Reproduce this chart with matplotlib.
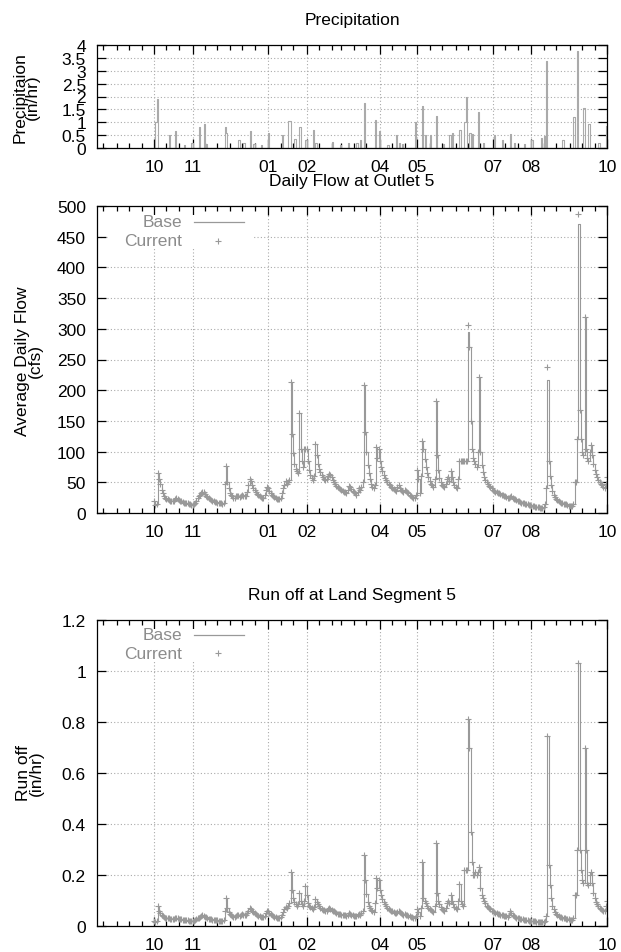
import numpy as np
import pandas as pd
import matplotlib
matplotlib.use('Agg')
import matplotlib.pyplot as plt
from matplotlib.ticker import FuncFormatter, MultipleLocator
from matplotlib.patches import Rectangle

plt.rcParams['font.family'] = ['Liberation Sans', 'DejaVu Sans']

# x axis is in days counted from 1 October (first water-year day)
start = pd.Timestamp('2005-10-01')
x_start, x_end = -46, 365
month_tick_days = [0, 31, 92, 123, 182, 212, 273, 304, 365]
month_tick_labels = ['10', '11', '01', '02', '04', '05', '07', '08', '10']

# daily average flow at outlet 5 (cfs), Base run
flow_base = [
    20, 13, 14, 65, 55, 48, 38, 32, 28, 25,
    23, 22, 21, 20, 20, 19, 19, 22, 25, 23,
    21, 20, 19, 18, 17, 17, 16, 16, 15, 14,
    13, 13, 14, 16, 20, 24, 27, 30, 33, 35,
    34, 31, 28, 26, 24, 22, 21, 20, 19, 18,
    18, 17, 17, 16, 16, 15, 16, 48, 77, 50,
    40, 33, 29, 27, 25, 25, 27, 28, 27, 26,
    27, 29, 28, 27, 28, 35, 45, 55, 52, 46,
    41, 37, 34, 31, 29, 27, 26, 25, 24, 30,
    38, 42, 40, 36, 33, 30, 28, 26, 24, 23,
    22, 22, 25, 33, 40, 45, 52, 48, 50, 53,
    213, 128, 97, 80, 72, 68, 65, 163, 105, 85,
    75, 105, 105, 105, 85, 70, 62, 57, 53, 60,
    112, 95, 80, 72, 66, 62, 58, 55, 53, 55,
    60, 64, 62, 58, 54, 50, 47, 44, 42, 40,
    39, 38, 36, 35, 34, 33, 38, 44, 42, 39,
    36, 34, 32, 30, 35, 40, 38, 42, 50, 208,
    132, 100, 78, 65, 55, 48, 43, 40, 45, 108,
    90, 104, 85, 75, 68, 62, 57, 53, 50, 47,
    45, 43, 41, 39, 37, 36, 42, 45, 41, 38,
    36, 34, 38, 36, 34, 32, 30, 28, 26, 25,
    24, 30, 70, 55, 32, 60, 118, 105, 88, 75,
    65, 58, 52, 48, 45, 43, 55, 183, 95, 70,
    57, 50, 46, 44, 42, 48, 55, 58, 52, 68,
    58, 50, 45, 42, 40, 55, 85, 85, 85, 85,
    85, 85, 85, 295, 270, 150, 105, 90, 85, 80,
    75, 100, 222, 100, 78, 66, 58, 53, 50, 47,
    44, 42, 40, 38, 36, 35, 34, 33, 32, 31,
    30, 29, 28, 27, 26, 25, 24, 26, 27, 25,
    23, 22, 21, 20, 19, 18, 17, 17, 16, 15,
    15, 14, 13, 13, 12, 11, 11, 10, 10, 9,
    9, 8, 8, 8, 10, 15, 40, 217, 85, 60,
    45, 36, 30, 26, 23, 21, 19, 18, 17, 16,
    15, 14, 14, 13, 12, 12, 11, 11, 15, 50,
    50, 120, 470, 168, 120, 100, 95, 320, 105, 90,
    85, 100, 110, 95, 80, 70, 63, 58, 53, 50,
    47, 45, 42, 40, 48, 58,
]
# Current run differs only at a few peaks
flow_peak_days = [253, 317, 342]
flow_peak_current = [307, 237, 487]

# run off at land segment 5 (in/hr)
runoff = [
    .02, .015, .02, .08, .06, .05, .045, .04, .035, .033,
    .03, .03, .03, .028, .028, .027, .027, .03, .032, .03,
    .028, .027, .026, .025, .025, .024, .023, .022, .021, .02,
    .02, .02, .021, .023, .026, .03, .033, .036, .04, .042,
    .04, .037, .034, .031, .029, .027, .026, .025, .024, .023,
    .022, .022, .021, .02, .02, .02, .022, .06, .11, .07,
    .055, .047, .042, .038, .036, .035, .04, .045, .042, .04,
    .042, .046, .044, .042, .045, .05, .06, .07, .066, .06,
    .055, .05, .046, .043, .04, .038, .036, .035, .034, .04,
    .05, .06, .057, .052, .048, .044, .04, .037, .035, .033,
    .031, .03, .035, .045, .055, .065, .075, .07, .08, .09,
    .21, .14, .11, .095, .085, .08, .085, .13, .10, .085,
    .08, .10, .155, .12, .09, .08, .075, .07, .068, .075,
    .105, .095, .085, .078, .072, .068, .064, .061, .058, .06,
    .065, .07, .067, .063, .06, .057, .054, .051, .049, .047,
    .046, .045, .044, .043, .042, .041, .045, .05, .048, .045,
    .043, .041, .04, .038, .042, .047, .045, .05, .06, .28,
    .18, .125, .095, .08, .07, .063, .058, .055, .09, .19,
    .15, .18, .14, .12, .105, .095, .085, .078, .072, .067,
    .063, .06, .057, .054, .051, .05, .055, .058, .054, .05,
    .047, .045, .048, .045, .042, .04, .038, .036, .034, .032,
    .03, .04, .065, .055, .04, .07, .25, .11, .10, .09,
    .08, .072, .066, .062, .058, .056, .08, .325, .13, .10,
    .085, .075, .068, .064, .06, .07, .09, .10, .09, .12,
    .10, .085, .075, .07, .068, .10, .165, .10, .085, .08,
    .22, .22, .22, .81, .70, .37, .25, .20, .20, .21,
    .20, .21, .23, .15, .12, .11, .10, .09, .08, .075,
    .07, .065, .06, .058, .055, .052, .05, .048, .046, .044,
    .043, .042, .041, .04, .038, .036, .045, .06, .05, .042,
    .038, .035, .033, .031, .03, .028, .027, .026, .025, .024,
    .023, .022, .021, .02, .02, .019, .018, .018, .017, .016,
    .016, .015, .015, .015, .017, .02, .04, .745, .24, .16,
    .11, .08, .065, .055, .048, .043, .04, .037, .035, .033,
    .031, .03, .028, .027, .026, .025, .024, .023, .03, .12,
    .12, .30, 1.03, .30, .22, .18, .17, .70, .30, .17,
    .16, .20, .21, .17, .13, .11, .095, .085, .078, .072,
    .067, .063, .06, .058, .08, .10,
]

# rain days and depth (in/hr); all other days are dry
precip_days = [1, 2, 12, 17, 24, 30, 36, 40, 42, 57, 58, 68, 72, 77, 80, 86,
               92, 103, 108, 109, 113, 117, 122, 128, 130, 143, 150, 156, 163,
               166, 169, 178, 181, 188, 195, 197, 200, 210, 216, 218, 222, 227,
               233, 238, 240, 246, 250, 251, 254, 256, 261, 265, 274, 280, 287,
               290, 298, 304, 312, 314, 316, 329, 338, 341, 346, 350, 358, 364]
precip_vals = [1.0, 1.9, 0.5, 0.65, 0.1, 0.2, 0.8, 0.95, 0.15, 0.8, 0.6, 0.3,
               0.2, 0.65, 0.15, 0.1, 0.6, 0.5, 1.05, 1.05, 0.35, 0.8, 0.3, 0.7,
               0.2, 0.25, 0.1, 0.2, 0.2, 0.3, 1.75, 1.1, 0.65, 0.1, 0.5, 0.2,
               0.15, 1.0, 1.65, 0.5, 0.5, 1.25, 0.15, 0.5, 0.6, 0.7, 1.0, 2.0,
               0.6, 0.55, 1.4, 0.2, 0.5, 0.3, 0.55, 0.2, 0.15, 0.3, 0.4, 0.45,
               3.38, 0.3, 1.2, 3.75, 1.55, 0.95, 0.2, 0.85]

days = np.arange(len(flow_base))
flow_current = list(flow_base)
for d, v in zip(flow_peak_days, flow_peak_current):
    flow_current[d] = v
precip = np.zeros(len(days))
precip[precip_days] = precip_vals

# minor x ticks on the 1st, 11th and 21st of every month
minor_days = []
for m in pd.date_range('2005-08-01', '2006-10-01', freq='MS'):
    for off in (0, 10, 20):
        d = (m + pd.Timedelta(days=off) - start).days
        if x_start < d < x_end and d not in month_tick_days:
            minor_days.append(d)

gray = '#999999'
fs = 12.5
W, H = 621, 953


def style_axes(ax, ymax, ystep):
    ax.set_xlim(x_start, x_end)
    ax.set_ylim(0, ymax)
    ax.yaxis.set_major_locator(MultipleLocator(ystep))
    ax.yaxis.set_major_formatter(FuncFormatter(lambda v, p: '%g' % v))
    ax.set_xticks(month_tick_days)
    ax.set_xticklabels(month_tick_labels)
    ax.set_xticks(minor_days, minor=True)
    ax.tick_params(which='both', direction='in', top=True, right=True,
                   labelsize=fs, pad=8, width=0.9, color='black')
    ax.tick_params(which='major', length=6.5)
    ax.tick_params(which='minor', length=3.5)
    ax.grid(True, which='major', linestyle=(0, (1, 2)), color='#aaaaaa', linewidth=0.8)
    ax.set_axisbelow(True)
    for s in ax.spines.values():
        s.set_linewidth(0.9)


def draw_key(ax, y_base, y_cur, box_bottom):
    ax.add_patch(Rectangle((0.022, box_bottom), 0.306 - 0.022, 0.97 - box_bottom,
                           transform=ax.transAxes, facecolor='white',
                           edgecolor='none', zorder=1.5))
    ax.text(0.1667, y_base, 'Base', transform=ax.transAxes, ha='right',
            va='center', color='#8c8c8c', fontsize=fs, zorder=3)
    ax.text(0.1667, y_cur, 'Current', transform=ax.transAxes, ha='right',
            va='center', color='#8c8c8c', fontsize=fs, zorder=3)
    ax.plot([0.190, 0.288], [y_base, y_base], transform=ax.transAxes,
            color=gray, lw=0.9, zorder=3)
    ax.plot([0.237], [y_cur], '+', transform=ax.transAxes, color=gray,
            ms=5, mew=0.8, zorder=3)


fig = plt.figure(figsize=(W / 100, H / 100), dpi=100)
ax1 = fig.add_axes([97 / W, 1 - 149 / H, 510 / W, 103 / H])
ax2 = fig.add_axes([97 / W, 1 - 514 / H, 510 / W, 307 / H])
ax3 = fig.add_axes([97 / W, 1 - 927 / H, 510 / W, 306 / H])

# Plot 1: precipitation
ax1.plot(days, precip, drawstyle='steps-post', color='#aaaaaa', lw=0.8)
style_axes(ax1, 4, 0.5)
ax1.set_title('Precipitation', fontsize=fs, pad=15)
fig.text(26.5 / W, 1 - 97.5 / H, 'Precipitaion\n(in/hr)', rotation=90,
         ha='center', va='center', fontsize=fs, linespacing=0.8)

# Plot 2: daily flow
ax2.plot(days, flow_base, drawstyle='steps-post', color=gray, lw=0.8)
ax2.plot(days, flow_current, '+', color=gray, ms=5, mew=0.8, linestyle='none')
style_axes(ax2, 500, 50)
ax2.set_title('Daily Flow at Outlet 5', fontsize=fs, pad=15)
draw_key(ax2, 0.948, 0.886, 0.86)
fig.text(29 / W, 1 - 361 / H, 'Average Daily Flow\n(cfs)', rotation=90,
         ha='center', va='center', fontsize=fs, linespacing=0.8)

# Plot 3: run off
ax3.plot(days, runoff, drawstyle='steps-post', color=gray, lw=0.8)
ax3.plot(days, runoff, '+', color=gray, ms=5, mew=0.8, linestyle='none')
style_axes(ax3, 1.2, 0.2)
ax3.set_title('Run off at Land Segment 5', fontsize=fs, pad=15)
draw_key(ax3, 0.951, 0.892, 0.866)
fig.text(30 / W, 1 - 773 / H, 'Run off\n(in/hr)', rotation=90,
         ha='center', va='center', fontsize=fs, linespacing=0.8)

plt.savefig('out.png', dpi=100)
plt.close()
